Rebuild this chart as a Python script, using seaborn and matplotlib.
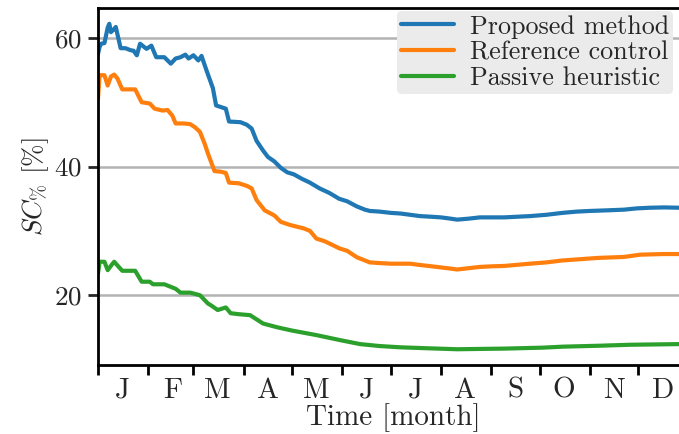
import numpy as np
import pandas as pd
import matplotlib
matplotlib.use("Agg")
import matplotlib.pyplot as plt
import seaborn as sns

# values: day of year -> SC% [%]
proposed_days = [0, 1, 2, 4, 6, 7, 8, 10, 11, 14, 17, 20, 22, 24, 26, 30, 33, 36,
                 41, 45, 48, 51, 54, 56, 59, 62, 64, 67, 71, 73, 79, 81, 88, 92,
                 95, 98, 102, 105, 109, 113, 117, 121, 126, 131, 137, 143, 149,
                 154, 160, 165, 168, 174, 181, 187, 193, 199, 206, 212, 218, 222,
                 229, 236, 243, 251, 259, 267, 277, 287, 296, 304, 315, 325, 333,
                 341, 350, 359]
proposed_vals = [57.5, 58.6, 59.1, 59.2, 61.6, 62.2, 60.9, 61.4, 61.7, 58.4, 58.4,
                 58.1, 58.0, 57.3, 59.1, 58.3, 58.8, 57.0, 57.0, 56.0, 56.8, 57.0,
                 57.4, 56.8, 57.3, 56.5, 57.2, 55.0, 52.2, 49.5, 49.0, 47.0, 46.9,
                 46.5, 45.9, 44.0, 42.5, 41.5, 40.8, 39.8, 39.1, 38.8, 38.1, 37.5,
                 36.6, 35.9, 35.0, 34.6, 33.8, 33.3, 33.1, 33.0, 32.8, 32.7, 32.5,
                 32.3, 32.2, 32.1, 31.9, 31.75, 31.9, 32.1, 32.1, 32.1, 32.2, 32.3,
                 32.5, 32.8, 33.0, 33.1, 33.2, 33.3, 33.5, 33.6, 33.65, 33.6]

reference_days = [0, 1, 4, 6, 8, 10, 12, 15, 19, 23, 27, 32, 35, 40, 43, 46, 48,
                  53, 57, 60, 63, 66, 68, 72, 76, 79, 81, 87, 92, 95, 98, 103,
                  109, 113, 119, 127, 131, 135, 140, 145, 149, 154, 160, 165, 168,
                  174, 181, 193, 199, 206, 216, 222, 229, 236, 244, 251, 267, 277,
                  287, 298, 309, 325, 335, 349, 359]
reference_vals = [50.5, 54.2, 54.2, 52.6, 54.0, 54.3, 53.7, 52.0, 52.0, 52.0, 50.0,
                  49.8, 49.0, 48.7, 48.8, 47.9, 46.7, 46.7, 46.6, 46.1, 45.4, 43.5,
                  42.0, 39.3, 39.2, 39.0, 37.5, 37.4, 37.0, 36.6, 34.8, 33.2, 32.4,
                  31.4, 30.9, 30.4, 30.0, 28.8, 28.4, 27.8, 27.3, 26.9, 25.9, 25.4,
                  25.1, 25.0, 24.9, 24.9, 24.7, 24.5, 24.2, 24.0, 24.2, 24.4, 24.5,
                  24.55, 24.9, 25.1, 25.4, 25.6, 25.8, 25.95, 26.3, 26.4, 26.4]

passive_days = [0, 1, 4, 6, 9, 10, 15, 23, 27, 32, 34, 41, 48, 51, 57, 63, 68,
                70, 74, 79, 82, 87, 94, 102, 111, 120, 135, 150, 162, 174, 187,
                204, 222, 236, 251, 275, 287, 310, 329, 359]
passive_vals = [23.4, 25.2, 25.2, 23.9, 24.9, 25.2, 23.8, 23.8, 22.1, 22.1, 21.7,
                21.7, 21.0, 20.4, 20.4, 20.0, 18.7, 18.4, 17.7, 18.1, 17.2, 17.05,
                16.9, 15.6, 15.0, 14.5, 13.8, 13.0, 12.4, 12.1, 11.9, 11.75, 11.6,
                11.65, 11.7, 11.85, 12.0, 12.15, 12.3, 12.4]

methods = ["Proposed method", "Reference control", "Passive heuristic"]
month_letters = ["J", "F", "M", "A", "M", "J", "J", "A", "S", "O", "N", "D"]

PALETTE = dict(zip(methods, ["#1f77b4", "#ff7f0e", "#2ca02c"]))
START = pd.Timestamp("2019-01-01")

frames = []
for name, days, vals in zip(methods,
                            [proposed_days, reference_days, passive_days],
                            [proposed_vals, reference_vals, passive_vals]):
    frames.append(pd.DataFrame({
        "date": START + pd.to_timedelta(days, unit="D"),
        "sc": vals,
        "method": name,
    }))
df = pd.concat(frames, ignore_index=True)

sns.set_theme(style="ticks")
plt.rcParams["font.family"] = "cmr10"
plt.rcParams["mathtext.fontset"] = "cm"
plt.rcParams["axes.formatter.use_mathtext"] = True
plt.rcParams["axes.unicode_minus"] = False

FS = 19.5
FS_X = 21
FS_LEG = 18.8

fig = plt.figure(figsize=(6.79, 4.34), dpi=100)
# axes run past the right edge of the canvas (the reference is cropped there)
ax = fig.add_axes([0.1443, 0.1597, 0.8698, 0.8226])
sns.lineplot(data=df, x="date", y="sc", hue="method", hue_order=methods,
             palette=PALETTE, linewidth=3, estimator=None, sort=True, ax=ax)

# month boundaries as ticks, letters centred mid-month
majors = [START + pd.DateOffset(months=i) for i in range(12)]
minors = [START + pd.DateOffset(months=i, days=15) for i in range(12)]
ax.set_xticks(majors, labels=[""] * 12)
ax.set_xticks(minors, labels=month_letters, minor=True)
ax.tick_params(axis="x", which="major", length=7.5, width=2, color="black")
ax.tick_params(axis="x", which="minor", length=0, pad=9, labelsize=FS_X)
ax.tick_params(axis="y", which="major", length=7.5, width=2, labelsize=FS, pad=4)

ax.set_xlim(START, START + pd.Timedelta(days=365))
ax.set_ylim(9.2, 64.7)
ax.set_yticks([20, 40, 60])

ax.yaxis.grid(True, color="#b3b3b3", linewidth=1.8)
ax.xaxis.grid(False)
ax.set_axisbelow(True)

for side in ["left", "bottom", "top", "right"]:
    ax.spines[side].set_linewidth(2.0)
    ax.spines[side].set_color("black")

ax.set_xlabel("Time [month]", fontsize=FS_X, labelpad=0)
ax.set_ylabel(r"$SC_{\%}$ [%]", fontsize=FS, labelpad=2)

handles, labels = ax.get_legend_handles_labels()
for h in handles:
    h.set_linewidth(3)
ax.legend(handles, labels, loc="upper left", bbox_to_anchor=(0.5847, 0.9747),
          bbox_transform=fig.transFigure,
          fontsize=FS_LEG, frameon=True, facecolor="#ebebeb", edgecolor="none",
          framealpha=1, labelspacing=0.08, borderpad=0.15, handlelength=2.05,
          handletextpad=0.6, borderaxespad=0)

fig.savefig("out.png", dpi=100)
